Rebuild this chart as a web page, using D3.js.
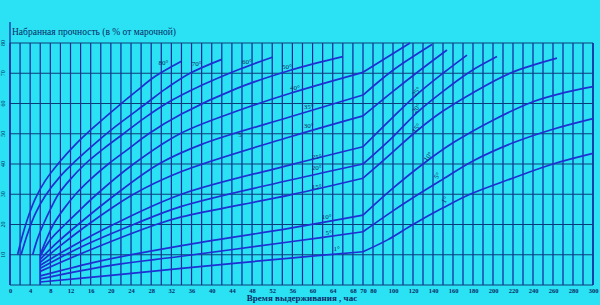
<!DOCTYPE html>
<html>
<head>
<meta charset="utf-8">
<script src="https://cdn.jsdelivr.net/npm/d3@7"></script>
<style>
body { margin: 0; background: #2ae2f4; }
svg { display: block; }
</style>
</head>
<body>
<div id="chart-area"></div>
<script>
// hours: 0..70 on a wide scale, 70..300 compressed
var xTicks = [0,4,8,12,16,20,24,28,32,36,40,44,48,52,56,60,64,68,70,80,100,120,140,160,180,200,220,240,260,280,300];
var xGrid = d3.range(0, 70, 2).concat(d3.range(70, 301, 10));
var yTicks = [10,20,30,40,50,60,70,80];

// [hours, % of grade strength]
var t80 = [[1.5,10],[2.5,16.5],[3.5,22],[5,28.5],[7,34.5],[10,41],[13,46.5],[16.5,52],[21,58.5],[25,64],[28.8,69],[34,74]];
var t70 = [[2.2,10],[3.5,17],[5,23.5],[7,29.5],[10,36],[13,41],[17,47],[21,52.5],[27,60],[31,65],[35.7,70],[42,74.6]];
var t60 = [[4.5,10],[5.5,15.5],[6.6,20],[8,25],[9.6,30],[12,35],[14.9,40],[18.5,45],[22.5,50],[26.5,55],[31,60],[38,66],[45,71],[52,75.3]];
var t50 = [[6,10],[7.2,15],[8.6,20],[10.6,25],[13,30],[16,35],[19.5,40],[23.5,45],[27.5,50],[34,56.5],[45,65],[55.6,71],[66,75.5]];
var t40 = [[6,9.5],[8,15],[10.9,20],[14,25],[17.2,30],[24.5,40],[33.7,50],[45,57.5],[55.6,63.4],[70,70.3],[117,80]];
var t35 = [[6,8.5],[9,13.5],[13.5,20],[21,30],[29.5,40],[38,46.5],[55.6,55.6],[70,62.8],[100,71],[139,79.5]];
var t30 = [[6,7.5],[10,13],[15.5,20],[24.5,30],[34,37.5],[55.6,49],[70,55.9],[100,64],[125,70.5],[154,77.7]];
var t25 = [[6,6.5],[12,12.5],[20.5,20],[34,30],[55.6,39.7],[70,45.7],[100,55.5],[124,63],[150,70],[174,76]];
var t20 = [[6,5.5],[14,12.5],[24.5,20],[34,26],[55.6,34.7],[70,40],[100,49],[124,57],[150,64],[177,70.5],[204,75.5]];
var t15 = [[6,4.5],[15,11],[29,20],[34,22.5],[55.6,29.8],[70,35.3],[100,44],[124,51],[150,57.5],[177,63],[217,70],[264,75]];
var t10 = [[6,3],[18,8],[34,13],[55.6,18.8],[70,23.1],[100,32],[130,40],[160,47],[200,54.5],[240,60.6],[270,63.5],[300,65.6]];
var t5 = [[6,2],[20,6.5],[34,9.5],[55.6,14.3],[70,17.6],[100,24.5],[127,30.3],[150,35],[180,41],[220,47],[260,51.5],[300,55]];
var t1 = [[6,1],[20,3.2],[34,5.5],[55.6,8.9],[70,11],[95,15],[120,20],[150,25.5],[177,30],[217,35],[260,40],[300,43.5]];
var series = [t80, t70, t60, t50, t40, t35, t30, t25, t20, t15, t10, t5, t1];

// [text, hours, %]
var leftLabels = [["80°",30.4,73.3],["70°",37,73],["60°",47,73.8],["50°",54.9,72.2],["40°",56.5,65],
    ["35°",59.2,59],["30°",59.2,52.6],["5",45.6,49.6],["25°",60.8,42.4],["20°",60.8,38.6],
    ["15°",60.8,32.5],["10°",62.8,22.6],["5°",63.2,17.3],["1°",64.8,11.8]];
var rightLabels = [["25°",123.7,63.9],["20°",123.7,58.4],["15°",123.7,51.8],["10°",135.3,42.4],
    ["5°",144.3,36.1],["1°",152,28.1]];

var width = 600, height = 305;
var x = d3.scaleLinear().domain([0, 70, 300]).range([10, 363, 593]);
var y = d3.scaleLinear().domain([0, 80]).range([285, 43]);

var svg = d3.select("#chart-area").append("svg")
    .attr("width", width).attr("height", height);

var gridCol = "#16239a", hGridCol = "#0c3c78", curveCol = "#1f2fd2", textCol = "#0b2a66";

// vertical grid
svg.append("g").selectAll("line").data(xGrid.concat([300])).enter().append("line")
    .attr("x1", d => x(d)).attr("x2", d => x(d))
    .attr("y1", y(0)).attr("y2", y(80))
    .attr("stroke", gridCol).attr("stroke-width", 1.2);

// horizontal grid
svg.append("g").selectAll("line").data([0].concat(yTicks)).enter().append("line")
    .attr("x1", x(0)).attr("x2", x(300))
    .attr("y1", d => y(d)).attr("y2", d => y(d))
    .attr("stroke", hGridCol).attr("stroke-width", 1.2);

// y axis line goes above the frame
svg.append("line").attr("x1", x(0)).attr("x2", x(0)).attr("y1", y(0)).attr("y2", 22)
    .attr("stroke", gridCol).attr("stroke-width", 1.2);

// tick labels
var xAxis = d3.axisBottom(x).tickValues(xTicks).tickSize(0).tickPadding(3);
var xg = svg.append("g").attr("transform", "translate(0," + y(0) + ")").call(xAxis);
xg.select(".domain").remove();
xg.selectAll("text").attr("font-family", "Liberation Serif, serif").attr("font-size", "6.5px")
    .attr("font-weight", "bold").attr("fill", textCol);

svg.append("g").selectAll("text").data(yTicks).enter().append("text")
    .attr("transform", d => "translate(5," + y(d) + ") rotate(-90)")
    .attr("text-anchor", "middle")
    .attr("font-family", "Liberation Serif, serif").attr("font-size", "6px")
    .attr("fill", textCol).text(d => d);

svg.append("text").attr("x", 12).attr("y", 35)
    .attr("font-family", "Liberation Serif, serif").attr("font-size", "9.5px")
    .attr("fill", textCol).text("Набранная прочность (в % от марочной)");

svg.append("text").attr("x", 302).attr("y", 301).attr("text-anchor", "middle")
    .attr("font-family", "Liberation Serif, serif").attr("font-size", "9px")
    .attr("font-weight", "bold").attr("fill", textCol).text("Время выдерживания , час");

// curves, split at the 70 h break
var line = d3.line().x(d => x(d[0])).y(d => y(d[1])).curve(d3.curveCatmullRom.alpha(0.5));
var cg = svg.append("g").attr("fill", "none").attr("stroke", curveCol).attr("stroke-width", 1.7);
series.forEach(function(s) {
    cg.append("path").attr("d", line(s.filter(d => d[0] <= 70)));
    var r = s.filter(d => d[0] >= 70);
    if (r.length > 1) cg.append("path").attr("d", line(r));
});
cg.append("line").attr("x1", x(6)).attr("x2", x(6)).attr("y1", y(0)).attr("y2", y(10));

// curve labels
svg.append("g").selectAll("text").data(leftLabels).enter().append("text")
    .attr("x", d => x(d[1])).attr("y", d => y(d[2]))
    .attr("text-anchor", "middle").attr("dominant-baseline", "central")
    .attr("font-family", "Liberation Serif, serif").attr("font-size", "7px")
    .attr("fill", textCol).text(d => d[0]);
svg.append("g").selectAll("text").data(rightLabels).enter().append("text")
    .attr("transform", d => "translate(" + x(d[1]) + "," + y(d[2]) + ") rotate(-55)")
    .attr("text-anchor", "middle").attr("dominant-baseline", "central")
    .attr("font-family", "Liberation Serif, serif").attr("font-size", "7px")
    .attr("fill", textCol).text(d => d[0]);
</script>
</body>
</html>
